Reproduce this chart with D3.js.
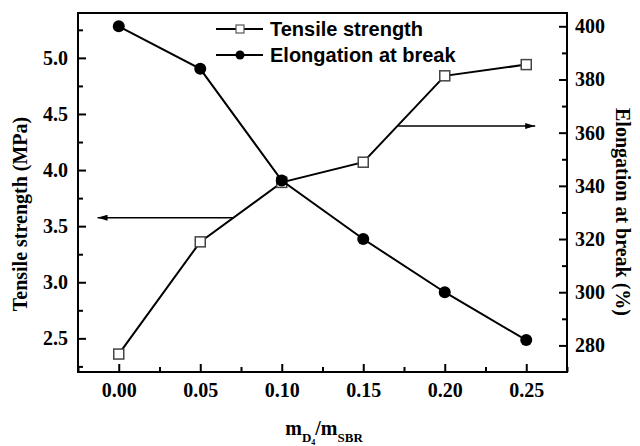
<!DOCTYPE html>
<html>
<head>
<meta charset="utf-8">
<script src="https://cdn.jsdelivr.net/npm/d3@7/dist/d3.min.js"></script>
<style>
  html, body { margin: 0; padding: 0; background: #fff; }
  svg { display: block; }
</style>
</head>
<body>
<svg id="chart" width="640" height="446"></svg>
<script>
// ---- data ----
const ratios = [0.00, 0.05, 0.10, 0.15, 0.20, 0.25];
const tensileStrength = [2.36, 3.36, 3.89, 4.07, 4.84, 4.94];
const elongation = [400, 384, 342, 320, 300, 282];
const xTickValues = [0.00, 0.05, 0.10, 0.15, 0.20, 0.25];
const leftTickValues = [2.5, 3.0, 3.5, 4.0, 4.5, 5.0];
const rightTickValues = [280, 300, 320, 340, 360, 380, 400];
const legendLabels = ["Tensile strength", "Elongation at break"];
// arrow annotations: [from x, to x, y value]
const leftArrow = { x1: 0.0703, x2: -0.013, y: 3.575 };
const rightArrow = { x1: 0.1714, x2: 0.2555, y: 362.5 };

// ---- layout ----
const L = 78, R = 567, T = 13, B = 372;
const svg = d3.select("#chart");

const x = d3.scaleLinear().domain([-0.025, 0.275]).range([L, R]);
const yL = d3.scaleLinear().domain([2.2, 5.4]).range([B, T]);
const yR = d3.scaleLinear().domain([270, 405]).range([B, T]);

const serif = "'Liberation Serif', 'Times New Roman', serif";
const sans = "'Liberation Sans', Arial, sans-serif";

svg.append("defs").append("marker")
  .attr("id", "arrow").attr("viewBox", "0 0 10 6")
  .attr("refX", 10).attr("refY", 3)
  .attr("markerWidth", 10).attr("markerHeight", 6)
  .attr("markerUnits", "userSpaceOnUse")
  .attr("orient", "auto")
  .append("path").attr("d", "M0,0 L10,3 L0,6 Z").attr("fill", "#000");

// minor tick helpers
const xMinor = d3.range(-0.025, 0.2751, 0.05);
const leftMinor = d3.range(2.25, 5.4, 0.5);
const rightMinor = d3.range(290, 405, 20);

function styleAxis(g) {
  g.select(".domain").remove();
  g.selectAll(".tick line").attr("stroke", "#000").attr("stroke-width", 2);
  g.selectAll(".tick text").attr("font-family", serif).attr("font-weight", "bold")
    .attr("font-size", 20).attr("fill", "#000");
}

// x axis
svg.append("g").attr("transform", `translate(0,${B})`)
  .call(d3.axisBottom(x).tickValues(xTickValues).tickSize(-8).tickPadding(11)
    .tickFormat(d3.format(".2f")))
  .call(styleAxis);
svg.append("g").attr("transform", `translate(0,${B})`)
  .call(d3.axisBottom(x).tickValues(xMinor).tickSize(-5).tickFormat(""))
  .call(styleAxis);

// left axis
svg.append("g").attr("transform", `translate(${L},0)`)
  .call(d3.axisLeft(yL).tickValues(leftTickValues).tickSize(-8).tickPadding(10)
    .tickFormat(d3.format(".1f")))
  .call(styleAxis);
svg.append("g").attr("transform", `translate(${L},0)`)
  .call(d3.axisLeft(yL).tickValues(leftMinor).tickSize(-5).tickFormat(""))
  .call(styleAxis);

// right axis
svg.append("g").attr("transform", `translate(${R},0)`)
  .call(d3.axisRight(yR).tickValues(rightTickValues).tickSize(-8).tickPadding(8)
    .tickFormat(d3.format("d")))
  .call(styleAxis);
svg.append("g").attr("transform", `translate(${R},0)`)
  .call(d3.axisRight(yR).tickValues(rightMinor).tickSize(-5).tickFormat(""))
  .call(styleAxis);

// frame
svg.append("rect").attr("x", L).attr("y", T).attr("width", R - L).attr("height", B - T)
  .attr("fill", "none").attr("stroke", "#000").attr("stroke-width", 2);

// axis titles
svg.append("text")
  .attr("transform", `translate(27,214) rotate(-90)`)
  .attr("text-anchor", "middle").attr("font-family", serif).attr("font-weight", "bold")
  .attr("font-size", 20).text("Tensile strength (MPa)");
svg.append("text")
  .attr("transform", `translate(616,212) rotate(90)`)
  .attr("text-anchor", "middle").attr("font-family", serif).attr("font-weight", "bold")
  .attr("font-size", 20).text("Elongation at break (%)");

const xl = svg.append("text").attr("x", 324).attr("y", 435)
  .attr("text-anchor", "middle").attr("font-family", serif).attr("font-weight", "bold")
  .attr("font-size", 20);
xl.append("tspan").text("m");
xl.append("tspan").attr("font-size", 13).attr("dy", 7).text("D");
xl.append("tspan").attr("font-size", 8).attr("dy", 3).text("4");
xl.append("tspan").attr("font-size", 20).attr("dy", -10).text("/m");
xl.append("tspan").attr("font-size", 13).attr("dy", 7).text("SBR");

// arrows
[[leftArrow, yL], [rightArrow, yR]].forEach(([a, ys]) => {
  svg.append("line")
    .attr("x1", x(a.x1)).attr("x2", x(a.x2))
    .attr("y1", ys(a.y)).attr("y2", ys(a.y))
    .attr("stroke", "#000").attr("stroke-width", 1.5)
    .attr("marker-end", "url(#arrow)");
});

// series
const tsData = ratios.map((r, i) => [r, tensileStrength[i]]);
const elData = ratios.map((r, i) => [r, elongation[i]]);

svg.append("path").datum(tsData)
  .attr("d", d3.line().x(d => x(d[0])).y(d => yL(d[1])))
  .attr("fill", "none").attr("stroke", "#000").attr("stroke-width", 2);
const sq = 10;
svg.selectAll(".sq").data(tsData).enter().append("rect")
  .attr("x", d => x(d[0]) - sq / 2).attr("y", d => yL(d[1]) - sq / 2)
  .attr("width", sq).attr("height", sq)
  .attr("fill", "#fff").attr("stroke", "#444").attr("stroke-width", 1.5);

svg.append("path").datum(elData)
  .attr("d", d3.line().x(d => x(d[0])).y(d => yR(d[1])))
  .attr("fill", "none").attr("stroke", "#000").attr("stroke-width", 2);
svg.selectAll(".dot").data(elData).enter().append("circle")
  .attr("cx", d => x(d[0])).attr("cy", d => yR(d[1])).attr("r", 6)
  .attr("fill", "#000");

// legend
const lg = svg.append("g");
legendLabels.forEach((lab, i) => {
  const cy = 29 + i * 26;
  lg.append("line").attr("x1", 216).attr("x2", 263).attr("y1", cy).attr("y2", cy)
    .attr("stroke", "#000").attr("stroke-width", 2);
  if (i === 0) {
    lg.append("rect").attr("x", 236).attr("y", cy - 4).attr("width", 8).attr("height", 8)
      .attr("fill", "#fff").attr("stroke", "#555").attr("stroke-width", 1.2);
  } else {
    lg.append("circle").attr("cx", 240).attr("cy", cy).attr("r", 4.5).attr("fill", "#000");
  }
  lg.append("text").attr("x", 270).attr("y", cy + 7)
    .attr("font-family", sans).attr("font-weight", "bold").attr("font-size", 20)
    .text(lab);
});
</script>
</body>
</html>
